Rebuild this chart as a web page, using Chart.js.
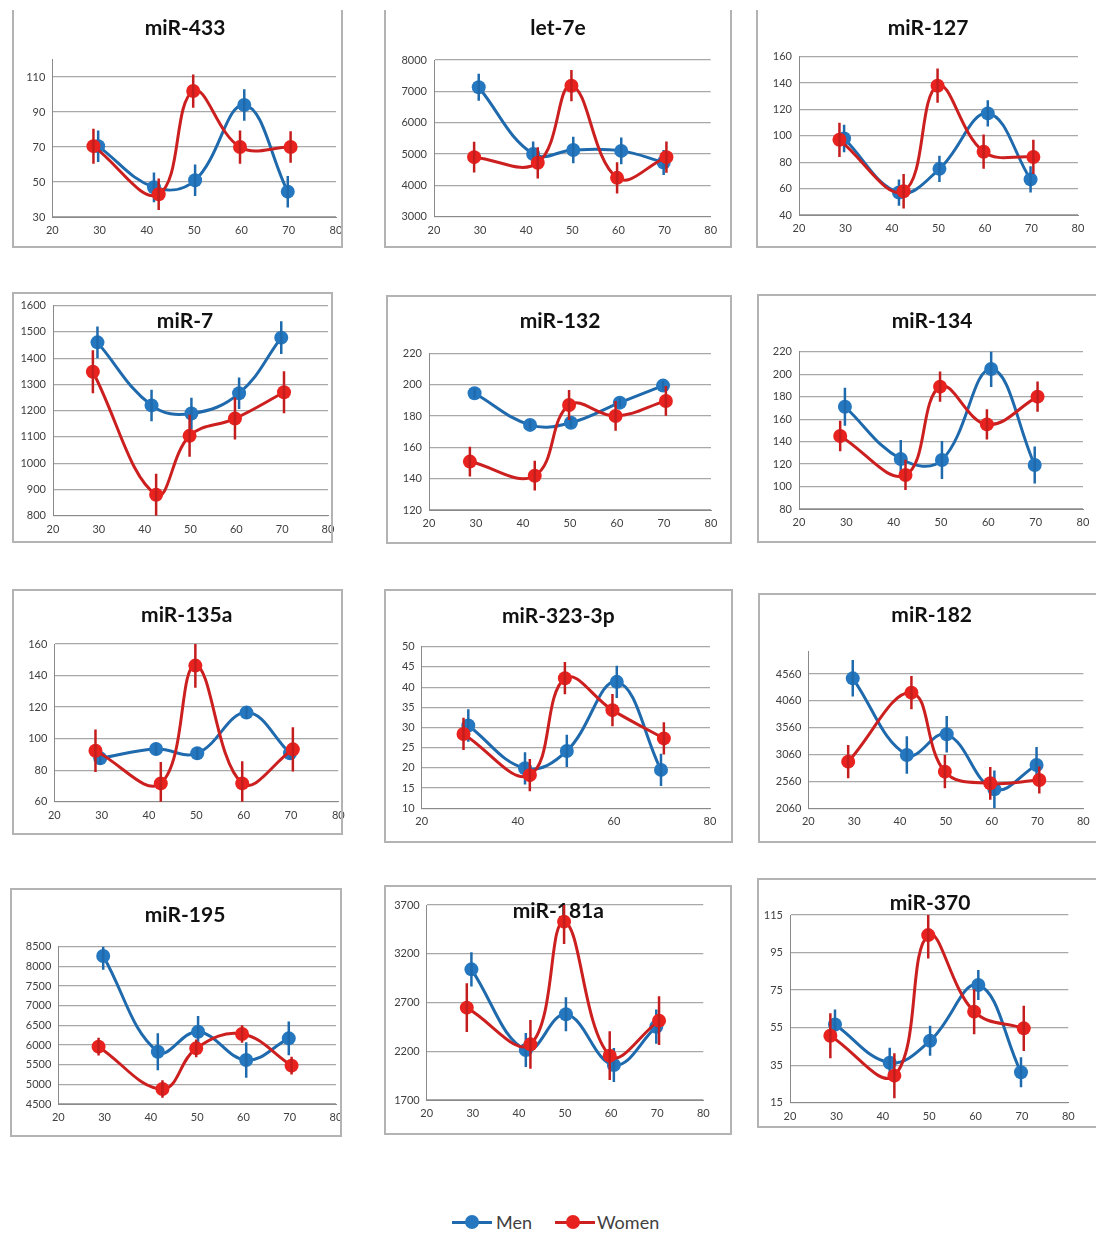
<!DOCTYPE html>
<html>
<head>
<meta charset="utf-8">
<script src="https://cdn.jsdelivr.net/npm/chart.js@4.4.1/dist/chart.umd.min.js"></script>
<style>
  html, body { margin: 0; padding: 0; background: #fff; }
  body { width: 1096px; height: 1234px; position: relative; overflow: hidden; font-family: Lato, "Open Sans", sans-serif; }
  .panel { position: absolute; }
  .panel canvas { position: absolute; top: 0; }
  .frame { position: absolute; left: 0; top: 0; border: 2px solid #b3b3b3; box-sizing: border-box; pointer-events: none; }
  .key-line { position: absolute; height: 3px; }
  .key-dot { position: absolute; width: 14px; height: 14px; border-radius: 50%; }
  .key-text { position: absolute; font: 18px Lato, sans-serif; color: #404040; line-height: 20px; }
</style>
</head>
<body>
<div class="key-line" style="left:452px;top:1221px;width:40px;background:#1f6aad"></div>
<div class="key-dot" style="left:465px;top:1215px;background:#2578bf"></div>
<div class="key-text" style="left:496px;top:1212px">Men</div>
<div class="key-line" style="left:555px;top:1221px;width:40px;background:#cc1f1f"></div>
<div class="key-dot" style="left:566px;top:1215px;background:#e8231f"></div>
<div class="key-text" style="left:597px;top:1212px">Women</div>

<script>
// Mean age of each group (x positions of the points)
const menAge   = [29.7, 41.5, 50.2, 60.6, 69.8];
const womenAge = [28.7, 42.5, 49.8, 59.7, 70.4];

// X axis tick labels
const ageTicks     = [20, 30, 40, 50, 60, 70, 80];
const ageTicksWide = [20, 40, 60, 80];

// miR-433
const miR433Men      = [70.5, 47, 51, 94, 44.5];
const miR433MenErr   = [9, 8.5, 9, 9, 9];
const miR433Women    = [70.5, 43, 102, 70, 70];
const miR433WomenErr = [10, 9, 9.5, 9.5, 9];
const miR433Ticks    = [30, 50, 70, 90, 110];

// let-7e
const let7eMen      = [7130, 5000, 5130, 5100, 4730];
const let7eMenErr   = [430, 400, 425, 425, 400];
const let7eWomen    = [4900, 4720, 7180, 4240, 4900];
const let7eWomenErr = [490, 500, 500, 500, 500];
const let7eTicks    = [3000, 4000, 5000, 6000, 7000, 8000];

// miR-127
const miR127Men      = [98, 57, 75, 117, 67];
const miR127MenErr   = [10.5, 10, 10, 10, 10];
const miR127Women    = [97, 58, 138, 88, 84];
const miR127WomenErr = [13, 13, 13, 13, 13];
const miR127Ticks    = [40, 60, 80, 100, 120, 140, 160];

// miR-7
const miR7Men      = [1460, 1220, 1189, 1266, 1478];
const miR7MenErr   = [60, 60, 60, 60, 62];
const miR7Women    = [1348, 880, 1104, 1170, 1270];
const miR7WomenErr = [82, 80, 80, 80, 80];
const miR7Ticks    = [800, 900, 1000, 1100, 1200, 1300, 1400, 1500, 1600];

// miR-132
const miR132Men      = [194.5, 174.3, 175.7, 188.5, 199.4];
const miR132MenErr   = [3, 3, 3, 3, 3];
const miR132Women    = [150.9, 141.9, 187, 180, 189.6];
const miR132WomenErr = [9.5, 9.5, 9.5, 9.5, 9.5];
const miR132Ticks    = [120, 140, 160, 180, 200, 220];

// miR-134
const miR134Men      = [171, 124.5, 123.6, 204.6, 119.2];
const miR134MenErr   = [17, 17, 17, 16, 16.5];
const miR134Women    = [145, 110.3, 188.9, 155.3, 180];
const miR134WomenErr = [13.5, 13.5, 13.5, 13.5, 13.5];
const miR134Ticks    = [80, 100, 120, 140, 160, 180, 200, 220];

// miR-135a
const miR135aMen      = [87.5, 93.4, 90.7, 116.5, 90.7];
const miR135aMenErr   = [4, 4, 4, 4, 4];
const miR135aWomen    = [92.3, 71.6, 146.3, 71.6, 93.2];
const miR135aWomenErr = [13.5, 13.5, 14, 14, 14];
const miR135aTicks    = [60, 80, 100, 120, 140, 160];

// miR-323-3p
const miR323Men      = [30.5, 19.9, 24.2, 41.3, 19.5];
const miR323MenErr   = [4, 4, 4, 4, 4];
const miR323Women    = [28.4, 18.2, 42.2, 34.3, 27.3];
const miR323WomenErr = [4, 4, 4, 4, 4];
const miR323Ticks    = [10, 15, 20, 25, 30, 35, 40, 45, 50];

// miR-182
const miR182Men      = [4479, 3052, 3437, 2414, 2866];
const miR182MenErr   = [340, 350, 340, 350, 335];
const miR182Women    = [2928, 4213, 2742, 2525, 2587];
const miR182WomenErr = [310, 310, 310, 305, 250];
const miR182Ticks    = [2060, 2560, 3060, 3560, 4060, 4560];

// miR-195
const miR195Men      = [8263, 5830, 6339, 5619, 6169];
const miR195MenErr   = [350, 470, 400, 450, 430];
const miR195Women    = [5958, 4881, 5915, 6280, 5475];
const miR195WomenErr = [225, 225, 225, 225, 225];
const miR195Ticks    = [4500, 5000, 5500, 6000, 6500, 7000, 7500, 8000, 8500];

// miR-181a
const miR181aMen      = [3040, 2213, 2579, 2059, 2452];
const miR181aMenErr   = [175, 175, 175, 175, 175];
const miR181aWomen    = [2647, 2271, 3529, 2155, 2514];
const miR181aWomenErr = [250, 250, 230, 250, 250];
const miR181aTicks    = [1700, 2200, 2700, 3200, 3700];

// miR-370
const miR370Men      = [56.7, 36.3, 48, 77.7, 31.2];
const miR370MenErr   = [8, 8, 8, 8, 8];
const miR370Women    = [50.7, 29.4, 104.3, 63.5, 54.6];
const miR370WomenErr = [12, 12, 12.5, 12, 12];
const miR370Ticks    = [15, 35, 55, 75, 95, 115];

const panels = [
  { name: 'miR-433',    men: miR433Men,  menErr: miR433MenErr,  women: miR433Women,  womenErr: miR433WomenErr,  yTicks: miR433Ticks,  yMax: 120,  xTicks: ageTicks },
  { name: 'let-7e',     men: let7eMen,   menErr: let7eMenErr,   women: let7eWomen,   womenErr: let7eWomenErr,   yTicks: let7eTicks,   xTicks: ageTicks },
  { name: 'miR-127',    men: miR127Men,  menErr: miR127MenErr,  women: miR127Women,  womenErr: miR127WomenErr,  yTicks: miR127Ticks,  xTicks: ageTicks },
  { name: 'miR-7',      men: miR7Men,    menErr: miR7MenErr,    women: miR7Women,    womenErr: miR7WomenErr,    yTicks: miR7Ticks,    xTicks: ageTicks },
  { name: 'miR-132',    men: miR132Men,  menErr: miR132MenErr,  women: miR132Women,  womenErr: miR132WomenErr,  yTicks: miR132Ticks,  xTicks: ageTicks },
  { name: 'miR-134',    men: miR134Men,  menErr: miR134MenErr,  women: miR134Women,  womenErr: miR134WomenErr,  yTicks: miR134Ticks,  xTicks: ageTicks },
  { name: 'miR-135a',   men: miR135aMen, menErr: miR135aMenErr, women: miR135aWomen, womenErr: miR135aWomenErr, yTicks: miR135aTicks, xTicks: ageTicks },
  { name: 'miR-323-3p', men: miR323Men,  menErr: miR323MenErr,  women: miR323Women,  womenErr: miR323WomenErr,  yTicks: miR323Ticks,  xTicks: ageTicksWide },
  { name: 'miR-182',    men: miR182Men,  menErr: miR182MenErr,  women: miR182Women,  womenErr: miR182WomenErr,  yTicks: miR182Ticks,  yMax: 4975, xTicks: ageTicks },
  { name: 'miR-195',    men: miR195Men,  menErr: miR195MenErr,  women: miR195Women,  womenErr: miR195WomenErr,  yTicks: miR195Ticks,  xTicks: ageTicks },
  { name: 'miR-181a',   men: miR181aMen, menErr: miR181aMenErr, women: miR181aWomen, womenErr: miR181aWomenErr, yTicks: miR181aTicks, xTicks: ageTicks },
  { name: 'miR-370',    men: miR370Men,  menErr: miR370MenErr,  women: miR370Women,  womenErr: miR370WomenErr,  yTicks: miR370Ticks,  xTicks: ageTicks }
];

// Page placement of each panel: frame box [l, t, r, b], plot area [x at 20, x at 80, top, bottom], title centre
const layouts = [
  { box: [12, 10, 343, 248],    plot: [52.3, 336, 59.5, 217],      title: [185, 28],     noTop: true },
  { box: [384, 10, 732, 248],   plot: [434, 710.7, 60, 216.7],     title: [558, 28],     noTop: true },
  { box: [756, 10, 1100, 248],  plot: [799, 1078, 56.7, 215],      title: [928, 28],     noTop: true, noRight: true },
  { box: [12, 292, 333, 543],   plot: [53, 328, 301.7, 515.7],     title: [185, 321.7] },
  { box: [386, 295, 732, 544],  plot: [429, 711, 353.3, 510],      title: [560, 321.7] },
  { box: [757, 294, 1100, 543], plot: [799, 1083, 351.7, 509],     title: [932, 321.7],  noRight: true },
  { box: [12, 589, 343, 835],   plot: [54.3, 338.3, 644, 801.7],   title: [186.7, 615] },
  { box: [384, 589, 733, 843],  plot: [421.7, 710, 646.7, 808.3],  title: [558.3, 616.7] },
  { box: [758, 593, 1100, 843], plot: [808.3, 1083.3, 651.7, 808.3], title: [931.7, 615], noRight: true },
  { box: [10, 888, 342, 1137],  plot: [58.3, 336, 946.7, 1104],    title: [185, 915] },
  { box: [384, 885, 732, 1135], plot: [426.7, 703.3, 905, 1100],   title: [558.3, 911.7] },
  { box: [757, 878, 1100, 1128], plot: [790, 1068.3, 915, 1102.7], title: [930, 903.3],  noRight: true }
];

const BLUE_LINE = '#1f6aad', BLUE_DOT = '#2578bf', BLUE_ERR = '#1f6aad';
const RED_LINE = '#cc1f1f', RED_DOT = '#e8231f', RED_ERR = '#c41d1d';
const GRID = '#a8a8a8', AXIS = '#8a8a8a', TICK = '#404040';
const TICK_FONT = { family: 'Lato, sans-serif', size: 11 };
const Y_AXIS_W = 50, X_AXIS_H = 22, EXTRA_LEFT = 34, EXTRA_RIGHT = 24;

// Vertical error bars (no caps), drawn right after each series
const errorBars = {
  id: 'errorBars',
  afterDatasetDraw(chart, args) {
    const ds = chart.data.datasets[args.index];
    if (!ds.errors) return;
    const ys = chart.scales.y, area = chart.chartArea, ctx = chart.ctx;
    ctx.save();
    ctx.beginPath();
    ctx.rect(area.left, area.top, area.right - area.left, area.bottom - area.top);
    ctx.clip();
    ctx.strokeStyle = ds.errorColor;
    ctx.lineWidth = 2.5;
    args.meta.data.forEach((pt, i) => {
      const v = ds.data[i].y, e = ds.errors[i];
      ctx.beginPath();
      ctx.moveTo(pt.x, ys.getPixelForValue(v + e));
      ctx.lineTo(pt.x, ys.getPixelForValue(v - e));
      ctx.stroke();
    });
    ctx.restore();
  }
};

// Panel heading
const panelTitle = {
  id: 'panelTitle',
  beforeDatasetsDraw(chart, args, opts) {
    const ctx = chart.ctx;
    ctx.save();
    ctx.font = 'bold 21px Lato, sans-serif';
    ctx.fillStyle = '#111';
    ctx.textAlign = 'center';
    ctx.textBaseline = 'middle';
    ctx.fillText(opts.text, opts.x, opts.y);
    ctx.restore();
  }
};

function drawPanel(p, L) {
  const [bl, bt, br, bb] = L.box;
  const w = br - bl, h = bb - bt;
  const div = document.createElement('div');
  div.className = 'panel';
  div.style.left = bl + 'px';
  div.style.top = bt + 'px';
  div.style.width = w + 'px';
  div.style.height = h + 'px';
  const cw = w + EXTRA_LEFT + EXTRA_RIGHT;
  const cv = document.createElement('canvas');
  cv.width = cw;
  cv.height = h;
  cv.style.width = cw + 'px';
  cv.style.height = h + 'px';
  cv.style.left = (-EXTRA_LEFT) + 'px';
  const frame = document.createElement('div');
  frame.className = 'frame';
  frame.style.width = w + 'px';
  frame.style.height = h + 'px';
  if (L.noTop) frame.style.borderTopStyle = 'none';
  if (L.noRight) frame.style.borderRightStyle = 'none';
  div.appendChild(cv);
  div.appendChild(frame);
  document.body.appendChild(div);

  const [px0, px1, pyTop, pyBot] = L.plot;
  const ox = bl - EXTRA_LEFT; // canvas origin on the page
  const yMin = p.yTicks[0];
  const yMax = p.yMax !== undefined ? p.yMax : p.yTicks[p.yTicks.length - 1];

  new Chart(cv, {
    type: 'scatter',
    data: {
      datasets: [
        {
          label: 'Men',
          data: menAge.map((a, i) => ({ x: a, y: p.men[i] })),
          errors: p.menErr,
          errorColor: BLUE_ERR,
          borderColor: BLUE_LINE,
          backgroundColor: BLUE_DOT,
          pointBackgroundColor: BLUE_DOT,
          order: 1
        },
        {
          label: 'Women',
          data: womenAge.map((a, i) => ({ x: a, y: p.women[i] })),
          errors: p.womenErr,
          errorColor: RED_ERR,
          borderColor: RED_LINE,
          backgroundColor: RED_DOT,
          pointBackgroundColor: RED_DOT,
          order: 0
        }
      ]
    },
    options: {
      responsive: false,
      animation: false,
      devicePixelRatio: 1,
      showLine: true,
      layout: {
        padding: {
          left: px0 - ox - Y_AXIS_W,
          right: (ox + cw) - px1,
          top: pyTop - bt,
          bottom: bb - pyBot - X_AXIS_H
        }
      },
      elements: {
        line: { tension: 0.4, borderWidth: 3, fill: false },
        point: { radius: 7, borderWidth: 0, hoverRadius: 7 }
      },
      plugins: {
        legend: { display: false },
        tooltip: { enabled: false },
        panelTitle: { text: p.name, x: L.title[0] - ox, y: L.title[1] - bt }
      },
      scales: {
        x: {
          type: 'linear',
          min: 20,
          max: 80,
          afterBuildTicks: s => { s.ticks = p.xTicks.map(v => ({ value: v })); },
          afterFit: s => { s.height = X_AXIS_H; },
          grid: { display: false, drawTicks: false },
          border: { display: true, color: AXIS, width: 1 },
          ticks: { padding: 7, color: TICK, font: TICK_FONT, maxRotation: 0, autoSkip: false, callback: v => String(v) }
        },
        y: {
          type: 'linear',
          min: yMin,
          max: yMax,
          afterBuildTicks: s => { s.ticks = p.yTicks.map(v => ({ value: v })); },
          afterFit: s => { s.width = Y_AXIS_W; },
          grid: { color: GRID, lineWidth: 1.2, drawTicks: false },
          border: { display: true, color: AXIS, width: 1 },
          ticks: { padding: 7, color: TICK, font: TICK_FONT, autoSkip: false, callback: v => String(v) }
        }
      }
    },
    plugins: [errorBars, panelTitle]
  });
}

panels.forEach((p, i) => drawPanel(p, layouts[i]));
</script>
</body>
</html>
